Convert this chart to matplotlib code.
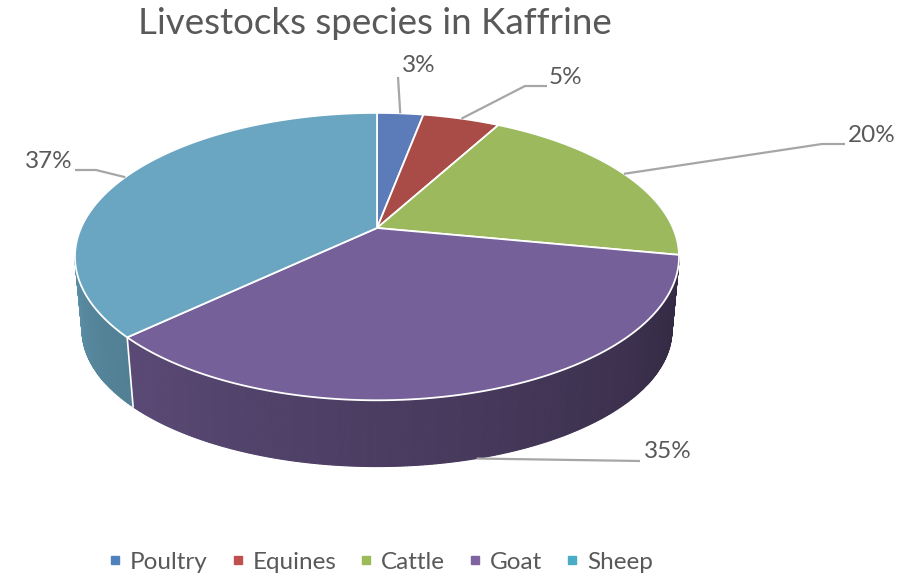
import numpy as np
import matplotlib.pyplot as plt
from matplotlib.patches import Polygon
from matplotlib.lines import Line2D

plt.rcParams['font.family'] = ['Lato', 'DejaVu Sans']

species = ['Poultry', 'Equines', 'Cattle', 'Goat', 'Sheep']
shares = [3, 5, 20, 35, 37]
pct_labels = ['3%', '5%', '20%', '35%', '37%']
top_colors = ['#5b7cb8', '#a94b47', '#9db95e', '#76609a', '#6aa6c1']
legend_colors = ['#4f81bd', '#c0504d', '#9bbb59', '#8064a2', '#4bacc6']

# where the % labels sit (pixels) and the bends of their leader lines
label_pos = [(402, 66), (549, 78), (848, 136), (644, 452), (73, 162)]
label_ha = ['left', 'left', 'left', 'left', 'right']
elbows = [[(398, 77)], [(525, 86), (547, 86)], [(822, 144), (845, 144)],
          [(640, 461)], [(96, 170), (75, 170)]]

# fake 3d projection of the pie disk (screen pixels, y down)
CX, CY = 377, 228
A, B, K = 296, 138, 0.199
CYB, AB, BB = 303, 289, 131
GREY = '#595959'


def top_pt(phi):
    s, c = np.sin(phi), np.cos(phi)
    den = 1 + K * c
    return CX + A * s / den, CY - B * c / den


def bot_pt(phi):
    s, c = np.sin(phi), np.cos(phi)
    den = 1 + K * c
    return CX + AB * s / den, CYB - BB * c / den


def shade(hexcol, f):
    rgb = np.array([int(hexcol[i:i + 2], 16) for i in (1, 3, 5)]) / 255.0
    return tuple(rgb * f)


fig = plt.figure(figsize=(9.01, 5.78), dpi=100)
ax = fig.add_axes([0, 0, 1, 1])
ax.set_xlim(0, 901)
ax.set_ylim(578, 0)
ax.axis('off')

bounds = np.concatenate([[0], np.cumsum(shares)]) / float(sum(shares)) * 2 * np.pi
side_lo = np.pi - np.arccos(K)
side_hi = np.pi + np.arccos(K)

# side walls first
for i in range(len(shares)):
    a0 = max(bounds[i], side_lo)
    a1 = min(bounds[i + 1], side_hi)
    if a1 <= a0:
        continue
    n = max(2, int(np.degrees(a1 - a0) * 2))
    phis = np.linspace(a0, a1, n + 1)
    for p0, p1 in zip(phis[:-1], phis[1:]):
        pm = 0.5 * (p0 + p1)
        f = 0.42 + (pm - side_lo) / (side_hi - side_lo) * 0.43
        col = shade(top_colors[i], f)
        quad = [top_pt(p0), top_pt(p1), bot_pt(p1), bot_pt(p0)]
        ax.add_patch(Polygon(quad, closed=True, facecolor=col, edgecolor=col, lw=0.8))

# white seam between sheep and goat walls
for b in bounds[1:-1]:
    if side_lo < b < side_hi:
        x0, y0 = top_pt(b)
        x1, y1 = bot_pt(b)
        ax.plot([x0, x1], [y0, y1], color='white', lw=1.2)

# top faces
for i in range(len(shares)):
    phis = np.linspace(bounds[i], bounds[i + 1], 200)
    pts = [(CX, CY)] + [top_pt(p) for p in phis]
    ax.add_patch(Polygon(pts, closed=True, facecolor=top_colors[i],
                         edgecolor='white', lw=1.3))

# percentage labels with leader lines
for i in range(len(shares)):
    mid = 0.5 * (bounds[i] + bounds[i + 1])
    if side_lo < mid < side_hi:
        start = bot_pt(mid)
    else:
        start = top_pt(mid)
    path = [start] + elbows[i]
    ax.plot([p[0] for p in path], [p[1] for p in path], color='#a6a6a6', lw=1.6,
            solid_capstyle='butt')
    ax.text(label_pos[i][0], label_pos[i][1], pct_labels[i], fontsize=17.5,
            color=GREY, ha=label_ha[i], va='center')

ax.text(375, 24, 'Livestocks species in Kaffrine', fontsize=26.5, color=GREY,
        ha='center', va='center')

handles = [Line2D([], [], marker='s', ls='none', markersize=6, color=c) for c in legend_colors]
ax.legend(handles, species, loc='center', bbox_to_anchor=(381, 562),
          bbox_transform=ax.transData, ncol=5, frameon=False, fontsize=17.5,
          handlelength=0.5, handletextpad=0.36, columnspacing=0.98, labelcolor=GREY)

fig.savefig('out.png', dpi=100)
